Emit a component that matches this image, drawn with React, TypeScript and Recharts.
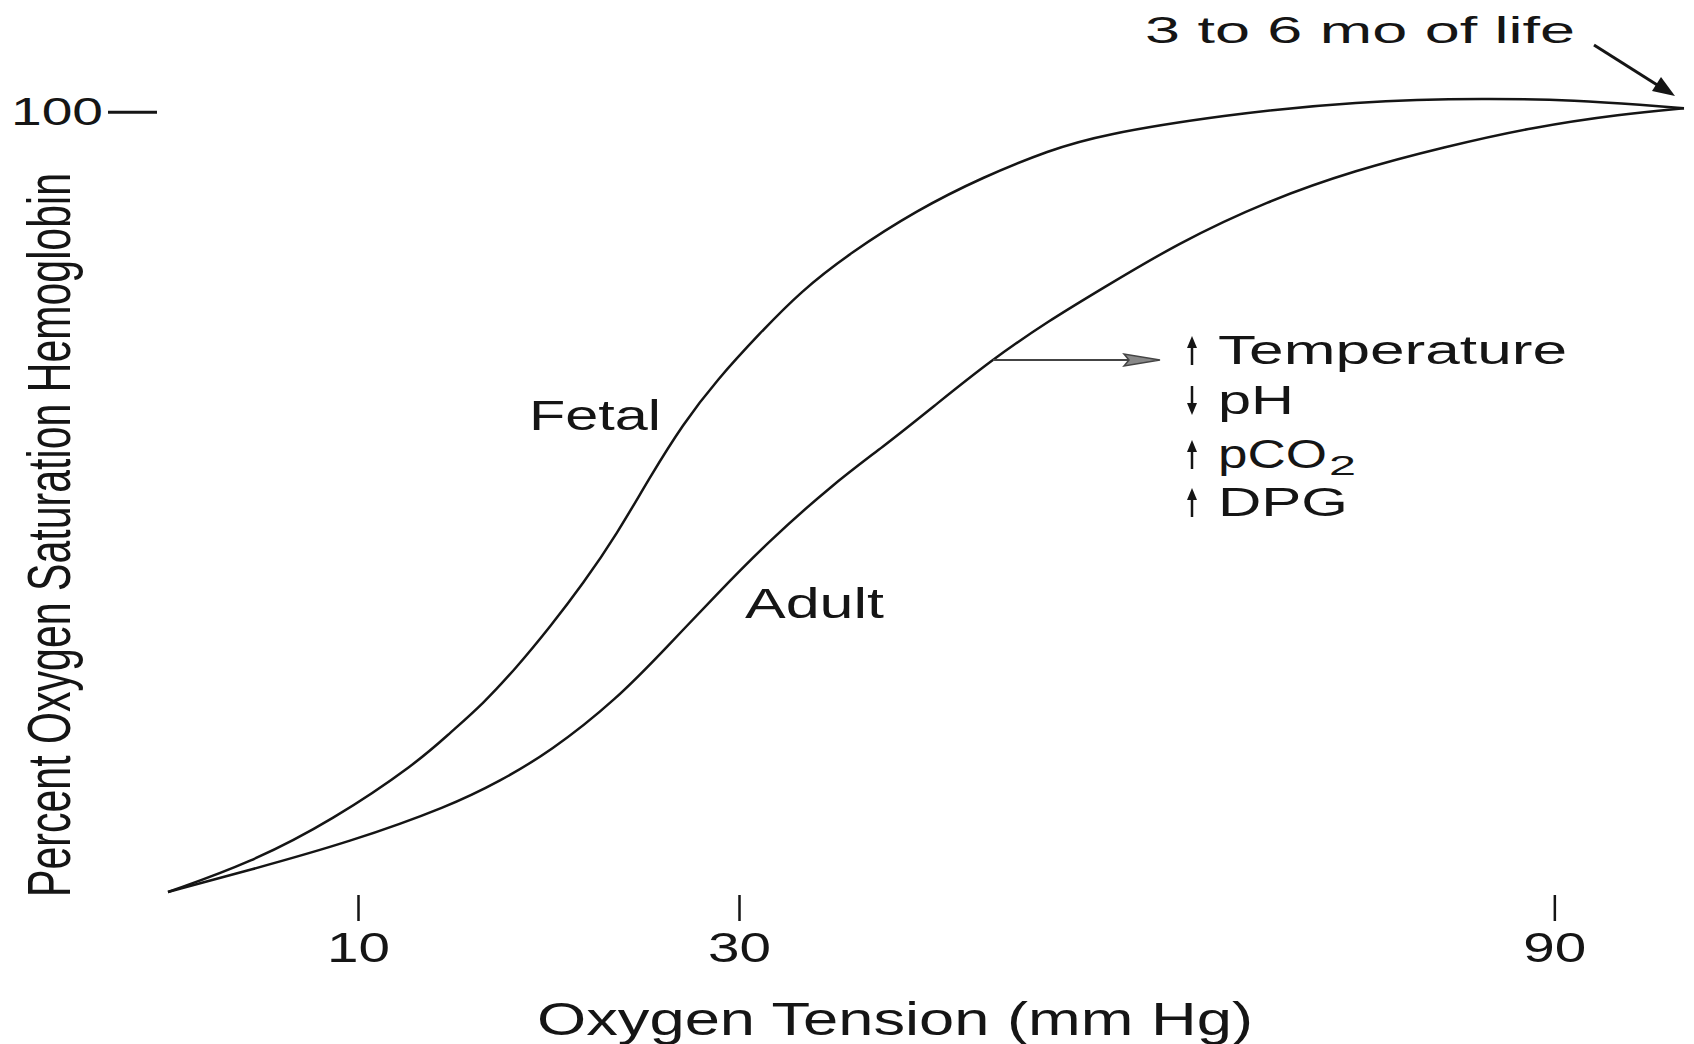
import { LineChart, Line, XAxis, YAxis } from 'recharts';

// x values are positions on the (schematic) tension axis, y values are % saturation
const fetalTension = [0, 4.3, 8.66, 13.07, 14.8, 16.54, 18.32, 20.05, 21.78, 23.57, 25.3, 27.03, 28.81, 31.08, 33.18, 35.8, 39.32, 42.78, 46.3, 48.92, 55.33, 62.36, 69.34, 74.02, 77.48, 79.58];
const fetalSaturation = [0, 3.7, 9.19, 16.46, 20.29, 24.0, 28.71, 33.81, 39.3, 45.68, 52.95, 59.71, 65.33, 71.32, 76.55, 81.53, 87.01, 91.22, 94.67, 96.58, 99.13, 100.9, 101.3, 101.0, 100.4, 100];

const adultTension = [0, 4.3, 9.55, 14.8, 17.43, 20.05, 23.57, 26.19, 28.82, 31.44, 34.91, 37.53, 40.16, 43.15, 46.3, 48.92, 53.02, 57.69, 62.36, 66.98, 71.65, 76.33, 79.58];
const adultSaturation = [0, 2.81, 6.38, 10.97, 14.16, 17.86, 24.62, 31.26, 38.02, 44.53, 52.05, 56.78, 61.88, 67.75, 72.98, 76.81, 82.8, 88.16, 92.12, 95.05, 97.6, 99.26, 100];

const xTickValues = [10, 30, 72.8];
const xTickLabels = ['10', '30', '90'];
const yTickValues = [100];

const fetalData = fetalTension.map((x, i) => ({ x, y: fetalSaturation[i] }));
const adultData = adultTension.map((x, i) => ({ x, y: adultSaturation[i] }));

const FONT = '"Liberation Sans", Arial, sans-serif';
const INK = '#151515';

function TensionTick({ x, y, payload }: any) {
  const i = xTickValues.indexOf(payload.value);
  return (
    <g>
      <line x1={x} x2={x} y1={y + 3} y2={y + 29} stroke={INK} strokeWidth={2.5} />
      <text
        x={x}
        y={y + 70}
        textAnchor="middle"
        fontSize={43}
        fontFamily={FONT}
        textLength={63}
        lengthAdjust="spacingAndGlyphs"
        fill={INK}
      >
        {xTickLabels[i]}
      </text>
    </g>
  );
}

function SaturationTick({ x, y, payload }: any) {
  return (
    <g>
      <text
        x={x - 65}
        y={y + 17}
        textAnchor="end"
        fontSize={38}
        fontFamily={FONT}
        textLength={92}
        lengthAdjust="spacingAndGlyphs"
        fill={INK}
      >
        {payload.value}
      </text>
      <line x1={x - 60} x2={x - 11} y1={y + 4} y2={y + 4} stroke={INK} strokeWidth={3} />
    </g>
  );
}

function UpArrow({ x, base }: { x: number; base: number }) {
  const top = base - 29;
  return (
    <g>
      <line x1={x} x2={x} y1={top + 8} y2={base} stroke={INK} strokeWidth={2.5} />
      <polygon points={`${x},${top} ${x - 5},${top + 12} ${x + 5},${top + 12}`} fill={INK} />
    </g>
  );
}

function DownArrow({ x, base }: { x: number; base: number }) {
  const top = base - 29;
  return (
    <g>
      <line x1={x} x2={x} y1={top} y2={base - 8} stroke={INK} strokeWidth={2.5} />
      <polygon points={`${x},${base} ${x - 5},${base - 12} ${x + 5},${base - 12}`} fill={INK} />
    </g>
  );
}

function Annotations() {
  return (
    <svg
      width={1694}
      height={1044}
      style={{ position: 'absolute', left: 0, top: 0, pointerEvents: 'none' }}
    >
      <g fontFamily={FONT} fill={INK}>
        {/* y axis title */}
        <text
          transform="translate(70,535) rotate(-90) scale(1,1.5)"
          textAnchor="middle"
          fontSize={41}
          textLength={724}
          lengthAdjust="spacingAndGlyphs"
        >
          Percent Oxygen Saturation Hemoglobin
        </text>
        {/* x axis title */}
        <text x={537} y={1035} fontSize={46} textLength={716} lengthAdjust="spacingAndGlyphs">
          Oxygen Tension (mm Hg)
        </text>

        <text x={529} y={430} fontSize={42} textLength={132} lengthAdjust="spacingAndGlyphs">
          Fetal
        </text>
        <text x={745} y={618} fontSize={42} textLength={139} lengthAdjust="spacingAndGlyphs">
          Adult
        </text>

        <text x={1145} y={43} fontSize={36} textLength={430} lengthAdjust="spacingAndGlyphs">
          3 to 6 mo of life
        </text>

        <text x={1218} y={364} fontSize={40} textLength={349} lengthAdjust="spacingAndGlyphs">
          Temperature
        </text>
        <text x={1218} y={414} fontSize={40} textLength={76} lengthAdjust="spacingAndGlyphs">
          pH
        </text>
        <text x={1218} y={468} fontSize={40} textLength={109} lengthAdjust="spacingAndGlyphs">
          pCO
        </text>
        <text x={1329} y={475} fontSize={28} textLength={27} lengthAdjust="spacingAndGlyphs">
          2
        </text>
        <text x={1218} y={516} fontSize={40} textLength={130} lengthAdjust="spacingAndGlyphs">
          DPG
        </text>
      </g>

      <UpArrow x={1192} base={365} />
      <DownArrow x={1192} base={415} />
      <UpArrow x={1192} base={469} />
      <UpArrow x={1192} base={517} />

      {/* arrow from adult curve to the list of factors */}
      <line x1={993} x2={1128} y1={360} y2={360} stroke="#444" strokeWidth={2} />
      <polygon points="1160,360 1124,354 1129,360 1124,366" fill="#888" stroke="#444" strokeWidth={1.5} />

      {/* arrow to the meeting point of the two curves */}
      <line x1={1594} y1={45} x2={1662} y2={88} stroke={INK} strokeWidth={3} />
      <polygon points="1675,96 1652,91 1661,77" fill={INK} />
    </svg>
  );
}

export default function App() {
  return (
    <div style={{ position: 'absolute', left: 0, top: 0, width: 1694, height: 1044, background: '#fff' }}>
      <LineChart width={1694} height={1044} margin={{ top: 69, right: 2, left: 0, bottom: 0 }}>
        <XAxis
          type="number"
          dataKey="x"
          domain={[0, 80]}
          ticks={xTickValues}
          interval={0}
          axisLine={false}
          tickLine={false}
          tickSize={0}
          tickMargin={0}
          height={152}
          tick={(props: any) => <TensionTick {...props} />}
        />
        <YAxis
          type="number"
          dataKey="y"
          domain={[0, 105]}
          ticks={yTickValues}
          interval={0}
          axisLine={false}
          tickLine={false}
          tickSize={0}
          tickMargin={0}
          width={168}
          tick={(props: any) => <SaturationTick {...props} />}
        />
        <Line
          data={fetalData}
          dataKey="y"
          type="basis"
          stroke={INK}
          strokeWidth={2.5}
          dot={false}
          isAnimationActive={false}
        />
        <Line
          data={adultData}
          dataKey="y"
          type="basis"
          stroke={INK}
          strokeWidth={2.5}
          dot={false}
          isAnimationActive={false}
        />
      </LineChart>
      <Annotations />
    </div>
  );
}
